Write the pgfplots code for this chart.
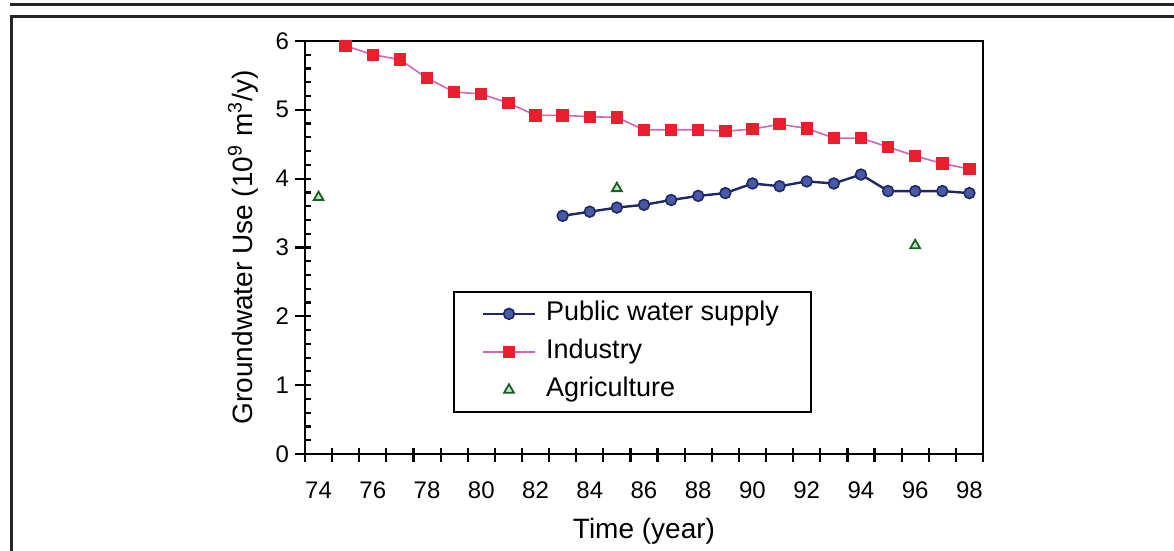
\documentclass[border=0pt]{standalone}
\usepackage{fontspec}
\setmainfont{Liberation Sans}
\usepackage{pgfplots}
\usepackage{pgfplotstable}
\pgfplotsset{compat=1.18}

\definecolor{pwsline}{RGB}{30,40,100}
\definecolor{pwsfill}{RGB}{70,90,165}
\definecolor{indline}{RGB}{210,100,185}
\definecolor{indfill}{RGB}{235,30,45}
\definecolor{agline}{RGB}{25,95,35}
\definecolor{agfill}{RGB}{190,235,190}

\pgfplotsset{
    linelegend/.style={legend image code/.code={\draw[mark repeat=2,mark phase=2,##1] plot coordinates {(0pt,0pt) (13pt,0pt) (26pt,0pt)};}},
    marklegend/.style={legend image code/.code={\draw[##1] plot coordinates {(13pt,0pt)};}},
}

% groundwater use, 10^9 m^3/y
\pgfplotstableread{
year use
83 3.46
84 3.52
85 3.58
86 3.62
87 3.69
88 3.75
89 3.79
90 3.93
91 3.89
92 3.96
93 3.93
94 4.06
95 3.82
96 3.82
97 3.82
98 3.79
}\pws

\pgfplotstableread{
year use
75 5.93
76 5.80
77 5.73
78 5.46
79 5.26
80 5.23
81 5.10
82 4.92
83 4.92
84 4.90
85 4.89
86 4.71
87 4.71
88 4.71
89 4.69
90 4.72
91 4.79
92 4.73
93 4.59
94 4.59
95 4.46
96 4.33
97 4.22
98 4.14
}\industry

\pgfplotstableread{
year use
74 3.73
85 3.86
96 3.03
}\agri

\begin{document}
\begin{tikzpicture}
\useasboundingbox (0,0) rectangle (587pt,275.5pt);
\draw[line width=1.5pt, black!85] (5pt,273pt) -- (587pt,273pt);
\draw[line width=1.5pt, black!85] (5.75pt,0pt) -- (5.75pt,267pt) -- (587pt,267pt);

\begin{axis}[
    at={(152.5pt,48.5pt)}, anchor=south west,
    scale only axis, width=339pt, height=206.5pt,
    xmin=73.5, xmax=98.5, ymin=0, ymax=6,
    axis line style={line width=1.3pt},
    tick pos=left, tick align=inside,
    major tick length=7pt, minor tick length=3pt,
    every tick/.style={black, line width=1.1pt},
    xtick={73.5,74.5,...,98.5}, xticklabels={},
    major x tick style={yshift=-4pt},
    extra x ticks={74,76,...,98},
    extra x tick labels={74,76,78,80,82,84,86,88,90,92,94,96,98},
    extra x tick style={major x tick style={draw=none}},
    ytick={0,1,...,6},
    minor ytick={0.2,0.4,...,5.9},
    major y tick style={xshift=-5pt},
    /pgf/number format/assume math mode=true,
    tick label style={font=\fontsize{12}{14}\selectfont},
    xticklabel style={yshift=-10.5pt},
    yticklabel style={xshift=-4.5pt},
    xlabel={Time (year)},
    xlabel style={font=\fontsize{14}{16}\selectfont, at={(axis description cs:0.5,0)}, anchor=base, yshift=-42.5pt},
    ylabel={Groundwater Use (10\textsuperscript{9} m\textsuperscript{3}/y)},
    ylabel style={font=\fontsize{14}{16}\selectfont, at={(axis description cs:0,0.5)}, anchor=base, yshift=26.5pt},
    legend style={at={(0.218,0.395)}, anchor=north west, draw=black, line width=1pt,
        font=\fontsize{13.5}{16}\selectfont, inner xsep=14pt, inner ysep=3.5pt, row sep=4pt, column sep=3pt,
        nodes={inner xsep=2pt, inner ysep=1pt, text height=10pt, text depth=3pt}},
    legend cell align=left,
    linelegend,
]
\addplot[pwsline, line width=1.2pt, mark=*, mark size=2.7pt,
    mark options={fill=pwsfill, draw=pwsline, line width=0.8pt}] table[x=year, y=use] {\pws};
\addlegendentry{Public water supply}
\addplot[indline, line width=0.8pt, mark=square*, mark size=2.7pt,
    mark options={fill=indfill, draw=indfill}] table[x=year, y=use] {\industry};
\addlegendentry{Industry}
\addplot[only marks, mark=triangle*, mark size=2.8pt,
    mark options={fill=agfill, draw=agline, line width=0.9pt}, marklegend] table[x=year, y=use] {\agri};
\addlegendentry{Agriculture}
\end{axis}
\end{tikzpicture}
\end{document}
